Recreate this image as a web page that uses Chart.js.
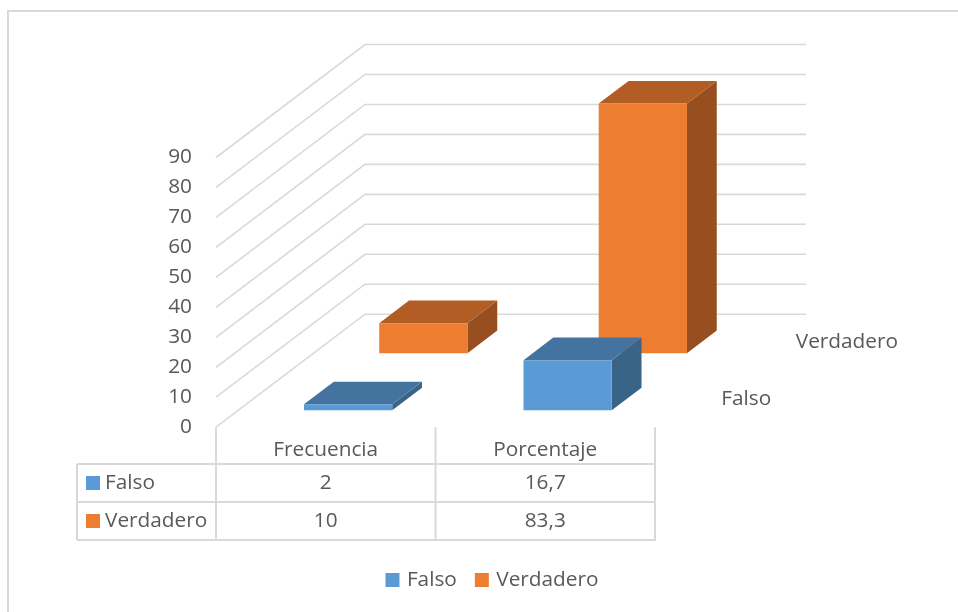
<!DOCTYPE html>
<html>
<head>
<meta charset="utf-8">
<script src="https://cdn.jsdelivr.net/npm/chart.js@4"></script>
<style>
html,body{margin:0;padding:0;background:#fff;overflow:hidden;width:958px;height:612px}
#frame{position:absolute;left:7px;top:10px;width:1000px;height:700px;border:2px solid #D9D9D9;box-sizing:border-box}
canvas{position:absolute;left:0;top:0}
</style>
</head>
<body>
<div id="frame"></div>
<canvas id="c" width="958" height="612"></canvas>
<script>
const categories = ['Frecuencia', 'Porcentaje'];
const seriesNames = ['Falso', 'Verdadero'];
const falso = [2, 16.7];
const verdadero = [10, 83.3];
const valueTicks = { min: 0, max: 90, step: 10 };

const FONT = '"Open Sans", sans-serif';
const FS = 20.8;
const TEXT = '#595959';
const LINE = '#D9D9D9';
const WALL = { dx: 149, dy: -113 };
const BAR_DEPTH = 0.2;
const ROW_START = [0.15, 0.655];
const ROW_MID = [0.25, 0.75];
const TOP_COL = ['#44739F', '#B25D24'];
const SIDE_COL = ['#3A6487', '#974F1F'];

const wallsAndTable = {
  id: 'wallsAndTable',
  beforeDatasetsDraw(chart) {
    const { ctx, chartArea: a, scales: { x, y } } = chart;
    ctx.save();
    ctx.strokeStyle = LINE;
    ctx.lineWidth = 1.6;
    y.ticks.forEach(t => {
      const py = y.getPixelForValue(t.value);
      ctx.beginPath();
      ctx.moveTo(a.left, py);
      ctx.lineTo(a.left + WALL.dx, py + WALL.dy);
      ctx.lineTo(a.right + WALL.dx + 2, py + WALL.dy);
      ctx.stroke();
    });
    ctx.restore();
  },
  beforeDatasetDraw(chart, args) {
    const { ctx } = chart;
    const i = args.index;
    const meta = args.meta;
    const t = ROW_START[i];
    ctx.save();
    ctx.translate(WALL.dx * t, WALL.dy * t);
    const ox = WALL.dx * BAR_DEPTH, oy = WALL.dy * BAR_DEPTH;
    meta.data.forEach(b => {
      const l = b.x - b.width / 2, r = b.x + b.width / 2;
      ctx.fillStyle = SIDE_COL[i];
      ctx.beginPath();
      ctx.moveTo(r, b.y); ctx.lineTo(r + ox, b.y + oy);
      ctx.lineTo(r + ox, b.base + oy); ctx.lineTo(r, b.base);
      ctx.closePath(); ctx.fill();
      ctx.fillStyle = TOP_COL[i];
      ctx.beginPath();
      ctx.moveTo(l, b.y); ctx.lineTo(l + ox, b.y + oy);
      ctx.lineTo(r + ox, b.y + oy); ctx.lineTo(r, b.y);
      ctx.closePath(); ctx.fill();
    });
  },
  afterDatasetDraw(chart) {
    chart.ctx.restore();
  },
  afterDraw(chart) {
    const { ctx, chartArea: a, scales: { x } } = chart;
    const half = (x.getPixelForTick(1) - x.getPixelForTick(0)) / 2;
    const tableLeft = 77, rowTop = 464, rowH = 38;
    ctx.save();
    ctx.strokeStyle = LINE;
    ctx.lineWidth = 2;
    const bottom = rowTop + rowH * seriesNames.length;
    ctx.beginPath();
    [x.getPixelForTick(0) - half, x.getPixelForTick(0) + half, x.getPixelForTick(1) + half].forEach(px => {
      ctx.moveTo(px, a.bottom); ctx.lineTo(px, bottom);
    });
    ctx.moveTo(tableLeft, rowTop); ctx.lineTo(tableLeft, bottom);
    for (let r = 0; r <= seriesNames.length; r++) {
      ctx.moveTo(tableLeft, rowTop + rowH * r);
      ctx.lineTo(a.right + 1, rowTop + rowH * r);
    }
    ctx.stroke();

    ctx.font = FS + 'px ' + FONT;
    ctx.fillStyle = TEXT;
    ctx.textBaseline = 'middle';
    chart.data.datasets.forEach((ds, i) => {
      const cy = rowTop + rowH * i + rowH / 2;
      ctx.fillStyle = ds.backgroundColor;
      ctx.fillRect(86, cy - 7, 14, 14);
      ctx.fillStyle = TEXT;
      ctx.textAlign = 'left';
      ctx.fillText(ds.label, 105, cy);
      ctx.textAlign = 'center';
      ds.data.forEach((v, j) => {
        ctx.fillText(String(v).replace('.', ','), x.getPixelForTick(j), cy);
      });
      // depth-axis label
      ctx.textAlign = 'left';
      ctx.fillText(ds.label, a.right + WALL.dx * ROW_MID[i] + 29, a.bottom + WALL.dy * ROW_MID[i]);
    });
    ctx.restore();
  }
};

new Chart(document.getElementById('c'), {
  type: 'bar',
  data: {
    labels: categories,
    datasets: [
      { label: seriesNames[0], data: falso, backgroundColor: '#5B9BD5', borderColor: '#5B9BD5', borderWidth: 0, clip: false },
      { label: seriesNames[1], data: verdadero, backgroundColor: '#ED7D31', borderColor: '#ED7D31', borderWidth: 0, clip: false }
    ]
  },
  options: {
    responsive: false,
    animation: false,
    layout: { padding: { left: 29, right: 0, top: 157.5, bottom: 11.5 } },
    datasets: { bar: { grouped: false, barPercentage: 0.402, categoryPercentage: 1 } },
    plugins: {
      tooltip: { enabled: false },
      title: { display: false },
      legend: {
        position: 'bottom',
        labels: {
          color: TEXT,
          font: { family: FONT, size: FS },
          boxWidth: 8,
          boxHeight: 8,
          padding: 21,
          generateLabels(chart) {
            return chart.data.datasets.map((ds, i) => ({
              text: ds.label, fillStyle: ds.backgroundColor, strokeStyle: ds.backgroundColor,
              lineWidth: 6, fontColor: TEXT, datasetIndex: i, hidden: false
            }));
          }
        }
      }
    },
    scales: {
      x: {
        grid: { display: false, drawTicks: false },
        border: { display: false },
        ticks: { color: TEXT, font: { family: FONT, size: FS }, padding: 10, autoSkip: false, maxRotation: 0 },
        afterFit(s) { s.height = 121.5; }
      },
      y: {
        min: valueTicks.min,
        max: valueTicks.max,
        grid: { display: false, drawTicks: false },
        border: { display: false },
        ticks: { stepSize: valueTicks.step, color: TEXT, font: { family: FONT, size: FS }, padding: 24 },
        afterFit(s) { s.width = 187; }
      },
      spacer: {
        type: 'linear',
        position: 'right',
        display: true,
        grid: { display: false, drawTicks: false },
        border: { display: false },
        ticks: { display: false },
        afterFit(s) { s.width = 303; }
      }
    }
  },
  plugins: [wallsAndTable]
});
</script>
</body>
</html>
